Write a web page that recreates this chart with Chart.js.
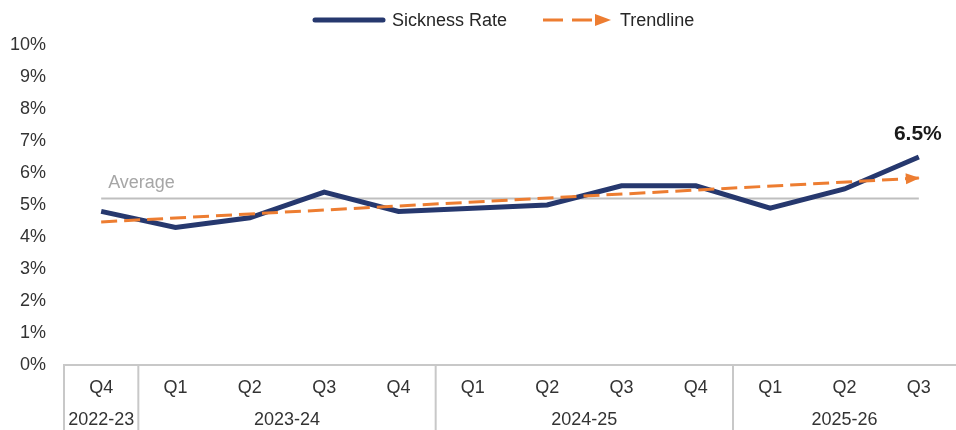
<!DOCTYPE html>
<html>
<head>
<meta charset="utf-8">
<script src="https://cdn.jsdelivr.net/npm/chart.js@4.4.1/dist/chart.umd.min.js"></script>
<style>
    html, body { margin: 0; padding: 0; background: #fff; }
    #wrap { position: relative; width: 956px; height: 430px; font-family: "Liberation Sans", Arial, sans-serif; }
    #legend { position: absolute; top: 0; left: 0; width: 956px; height: 40px; }
    #legend .txt { position: absolute; top: 9px; font-size: 18px; color: #262626; line-height: 22px; white-space: nowrap; }
    #legend svg { position: absolute; }
    canvas { position: absolute; top: 0; left: 0; }
</style>
</head>
<body>
<div id="wrap">
    <canvas id="sicknessChart" width="956" height="430"></canvas>
    <div id="legend">
        <svg style="left:312px; top:14px" width="74" height="12">
            <line x1="3" y1="6" x2="71" y2="6" stroke="#26386E" stroke-width="5" stroke-linecap="round"/>
        </svg>
        <span class="txt" style="left:392px">Sickness Rate</span>
        <svg style="left:542px; top:12px" width="72" height="16">
            <line x1="1" y1="8" x2="55" y2="8" stroke="#ED7D31" stroke-width="3" stroke-dasharray="20 9"/>
            <polygon points="53,2 69,8 53,14" fill="#ED7D31"/>
        </svg>
        <span class="txt" style="left:620px">Trendline</span>
    </div>
</div>
<script>
// Data
const quarters = ['Q4', 'Q1', 'Q2', 'Q3', 'Q4', 'Q1', 'Q2', 'Q3', 'Q4', 'Q1', 'Q2', 'Q3'];
const sicknessRate = [4.8, 4.3, 4.6, 5.4, 4.8, 4.9, 5.0, 5.6, 5.6, 4.9, 5.5, 6.5];
const yearLabels = ['2022-23', '2023-24', '2024-25', '2025-26'];
const yearStartIndex = [0, 1, 5, 9];
const averageValue = 5.2;
const trendStart = 4.47;
const trendEnd = 5.84;
const yTicks = [0, 1, 2, 3, 4, 5, 6, 7, 8, 9, 10];

const FONT = '"Liberation Sans", Arial, sans-serif';
const NAVY = '#26386E';
const ORANGE = '#ED7D31';
const GRID_GREY = '#C8C8C8';

document.addEventListener('DOMContentLoaded', function() {
    initSicknessChart();
});

// trendline only has values at the two ends, the line spans the gap
function buildTrendData() {
    const data = quarters.map(() => null);
    data[0] = trendStart;
    data[data.length - 1] = trendEnd;
    return data;
}

/**
 * Arrow head, labels and the year row under the axis
 */
const extrasPlugin = {
    id: 'extras',
    afterDatasetsDraw(chart) {
        // arrow head on the end of the trendline, tip on the last point
        const meta = chart.getDatasetMeta(0);
        const pts = meta.data;
        const a = pts[0];
        const b = pts[pts.length - 1];
        const ang = Math.atan2(b.y - a.y, b.x - a.x);
        const ctx = chart.ctx;
        ctx.save();
        ctx.translate(b.x, b.y);
        ctx.rotate(ang);
        ctx.fillStyle = ORANGE;
        ctx.beginPath();
        ctx.moveTo(1, 0);
        ctx.lineTo(-13, -5.5);
        ctx.lineTo(-13, 5.5);
        ctx.closePath();
        ctx.fill();
        ctx.restore();
    },
    afterDraw(chart) {
        const ctx = chart.ctx;
        const x = chart.scales.x;
        const y = chart.scales.y;
        const bottom = chart.height;
        const top = chart.chartArea.bottom;

        ctx.save();

        // group dividers
        ctx.strokeStyle = GRID_GREY;
        ctx.lineWidth = 2;
        yearStartIndex.forEach(idx => {
            let px;
            if (idx === 0) {
                px = chart.chartArea.left;
            } else {
                px = (x.getPixelForValue(idx - 1) + x.getPixelForValue(idx)) / 2;
            }
            ctx.beginPath();
            ctx.moveTo(px, top);
            ctx.lineTo(px, bottom);
            ctx.stroke();
        });

        // year labels
        ctx.fillStyle = '#333';
        ctx.font = '18px ' + FONT;
        ctx.textAlign = 'center';
        ctx.textBaseline = 'middle';
        yearLabels.forEach((label, i) => {
            const first = yearStartIndex[i];
            const last = i < yearStartIndex.length - 1 ? yearStartIndex[i + 1] - 1 : quarters.length - 1;
            const cx = (x.getPixelForValue(first) + x.getPixelForValue(last)) / 2;
            ctx.fillText(label, cx, 420);
        });

        // "Average" label
        ctx.fillStyle = '#A6A6A6';
        ctx.textAlign = 'left';
        ctx.fillText('Average', x.getPixelForValue(0) + 7, y.getPixelForValue(averageValue) - 16);

        // last value label
        const lastIdx = sicknessRate.length - 1;
        ctx.fillStyle = '#1A1A1A';
        ctx.font = 'bold 21px ' + FONT;
        ctx.textAlign = 'center';
        ctx.fillText(sicknessRate[lastIdx].toFixed(1) + '%',
            x.getPixelForValue(lastIdx) - 1, y.getPixelForValue(sicknessRate[lastIdx]) - 23);

        ctx.restore();
    }
};

function initSicknessChart() {
    const canvas = document.getElementById('sicknessChart');
    if (!canvas) return;

    const ctx = canvas.getContext('2d');

    new Chart(ctx, {
        type: 'line',
        data: {
            labels: quarters,
            datasets: [
                {
                    label: 'Trendline',
                    data: buildTrendData(),
                    borderColor: ORANGE,
                    backgroundColor: ORANGE,
                    borderWidth: 3,
                    borderDash: [16, 7],
                    spanGaps: true,
                    pointRadius: 0,
                    order: 0
                },
                {
                    label: 'Sickness Rate',
                    data: sicknessRate,
                    borderColor: NAVY,
                    borderWidth: 5,
                    pointRadius: 0,
                    tension: 0,
                    order: 1
                },
                {
                    label: 'Average',
                    data: quarters.map(() => averageValue),
                    borderColor: '#BFBFBF',
                    borderWidth: 2,
                    pointRadius: 0,
                    order: 2
                }
            ]
        },
        options: {
            responsive: false,
            animation: false,
            devicePixelRatio: 1,
            layout: {
                autoPadding: false,
                padding: { top: 45, left: 0, right: -3, bottom: 0 }
            },
            plugins: {
                legend: { display: false },
                tooltip: { enabled: false }
            },
            scales: {
                x: {
                    offset: true,
                    grid: { display: false, drawTicks: false },
                    border: { display: true, color: GRID_GREY, width: 2 },
                    ticks: {
                        color: '#333',
                        padding: 12,
                        autoSkip: false,
                        maxRotation: 0,
                        font: { size: 18, family: FONT }
                    },
                    afterFit: s => { s.height = 65; }
                },
                y: {
                    min: 0,
                    max: 10,
                    afterBuildTicks: s => { s.ticks = yTicks.map(v => ({ value: v })); },
                    grid: { display: false, drawTicks: false },
                    border: { display: false },
                    ticks: {
                        color: '#333',
                        padding: 18,
                        callback: v => v + '%',
                        font: { size: 18, family: FONT }
                    },
                    afterFit: s => { s.width = 64; }
                }
            }
        },
        plugins: [extrasPlugin]
    });
}
</script>
</body>
</html>
